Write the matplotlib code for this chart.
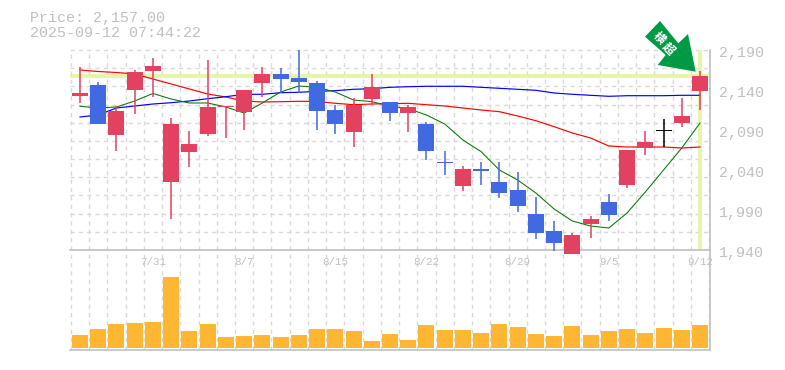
import matplotlib
matplotlib.use("Agg")
import matplotlib.pyplot as plt
from matplotlib.patches import Polygon

W, H = 785, 370
FONT = ["Liberation Mono", "DejaVu Sans Mono"]
GRAY = "#c0c0c0"
GRID = "#d9d9d9"

price_now = 2157.00
stamp = "2025-09-12 07:44:22"

tops = [93,85,111,72,66,124,144,107,106,90,74,74,78,83,110,105,87,102,107,124,162,169,169,182,190,214,231,235,219,202,150,142,130,116,76]
bottoms = [96,124,135,90,71,182,152,134,107,112,83,79,82,111,124,132,99,113,113,151,163,186,171,193,206,233,243,254,224,215,185,148,130.5,123,91]
highs = [66.7,82,106,70,58,118,131,60,106,90,67,68,50,81,105,98,74,102,105,122,151,166,162,162,172,197,221,233,216,194,150,131,119,98,71]
lows = [102.7,124,151,114,97,219,167,136,138,130,97,93,93,130,134,147,105,121,132,160,175,191,185,198,212,239,251,254,238,221,188,155,147,127,110]
kinds = list("rbrrrrrrrrrbbbbrrbrbbrbbbbbrrbrrkrr")
ma_red = [70,71.5,72.5,74,79,84,89,94,97,101,102,101.7,101.3,101.5,103.3,104.7,104,103.7,103.3,104.7,106,108,110,111.7,116,120.7,126.7,133,138,146,147,147,147,148,147]
ma_blue = [117,115,108,106,104,102.7,101,98.7,96.7,94.3,94.3,92.7,92.3,91.3,90.7,89.3,88.7,87.3,86.7,86.3,86.3,86.3,87.3,88.3,89.3,90.3,93,94.3,95.3,96.3,95.7,95.7,95.7,95.3,95.3]
ma_green = [106.3,108,107,101,93.5,99,103,103,107,113,103,92,86,87.3,92,100,101.7,106,108.7,115,124,140,151.7,170,180,193,209,221,226,228,213,192,170,148,123]
volume = [13,19,24,25,26,71,17,24,11,12,13,11,13,19,19,17,7,14,8,23,18,18,15,24,21,14,12,22,13,17,19,15,20,18,23]
date_labels = {4:"7/31",9:"8/7",14:"8/15",19:"8/22",24:"8/29",29:"9/5",34:"9/12"}
price_ticks = [2190,2140,2090,2040,1990,1940]

def to_price(y):
    return 2190-(y-50)/0.8

COL = {"r":"#e2415f","b":"#4169e1","k":"#000000"}
fig = plt.figure(figsize=(W/100,H/100),dpi=100,facecolor="white")
vx = fig.add_axes([70/W,1-350/H,640/W,100/H])
ax = fig.add_axes([70/W,1-250/H,640/W,200/H],sharex=vx)
ax.patch.set_visible(False)
xs = list(range(len(kinds)))
ax.set_xlim(-0.548,34.548)
ax.set_ylim(1940,2190)
vx.set_ylim(-2,98)

for a in (ax,vx):
    a.set_axisbelow(True)
    a.set_xticks([i-0.5 for i in range(36)])
    a.tick_params(length=0,labelbottom=False,labelleft=False)
    a.grid(True,axis="x",color=GRID,lw=1,ls=(0,(3,3)))
    for s in a.spines.values():
        s.set_visible(False)
    for n in ("bottom","right"):
        a.spines[n].set_visible(True)
        a.spines[n].set_color(GRAY)
        a.spines[n].set_linewidth(1.2)
ax.set_yticks([to_price(50+18.18*k) for k in range(11)])
ax.grid(True,axis="y",color=GRID,lw=1,ls=(0,(3,3)))
for line in ax.get_ygridlines():
    line.set_clip_on(False)

ax.axhline(price_now,color="#e6f5a9",lw=2.9,zorder=1.5)
ax.plot([34,34],[1942,2190],color="#e6f5a9",lw=2.9,zorder=1.5)

ax.plot(xs,[to_price(v) for v in ma_red],color="#ff0000",lw=0.85,zorder=2)
ax.plot(xs,[to_price(v) for v in ma_blue],color="#0000ff",lw=0.85,zorder=2)
ax.plot(xs,[to_price(v) for v in ma_green],color="#007700",lw=0.75,zorder=2)

for i,k in enumerate(kinds):
    c = COL[k]
    ax.plot([i,i],[to_price(lows[i]),to_price(highs[i])],color=c,lw=1.1,zorder=3,clip_on=False,solid_capstyle="butt")
    t,b = to_price(tops[i]),to_price(bottoms[i])
    ax.bar(i,t-b,bottom=b,width=0.88,color=c,zorder=4,clip_on=False,lw=0)
vx.bar(xs,volume,width=0.88,color="#ffb733",zorder=3,lw=0)

for i,s in date_labels.items():
    vx.text(i,1-12/100,s,transform=vx.get_xaxis_transform(),ha="center",va="center",family=FONT,fontsize=7.8,color=GRAY)
for p in price_ticks:
    ax.text(719/W,1-(50+(2190-p)*0.8+2.5)/H,f"{p:,}",transform=fig.transFigure,ha="left",va="center",family=FONT,fontsize=10.8,color=GRAY)
fig.text(29.5/W,1-18/H,f"Price: {price_now:,.2f}",ha="left",va="center",family=FONT,fontsize=10.8,color=GRAY)
fig.text(29.5/W,1-33/H,stamp,ha="left",va="center",family=FONT,fontsize=10.8,color=GRAY)

arrow_px = [(660,21),(645,36.7),(665.7,55),(657.7,65),(695.7,71.7),(688,34),(678.3,43.3)]
fig.add_artist(Polygon([(x/W,1-y/H) for x,y in arrow_px],closed=True,transform=fig.transFigure,facecolor="#009944",edgecolor="none",zorder=6))
fig.text(659/W,1-38/H,"横",rotation=-45,ha="center",va="center",family=["Noto Sans CJK JP"],fontsize=8.5,fontweight="bold",color="white",zorder=7)
fig.text(668/W,1-49/H,"超",rotation=-45,ha="center",va="center",family=["Noto Sans CJK JP"],fontsize=8.5,fontweight="bold",color="white",zorder=7)

fig.savefig("out.png",dpi=100)
